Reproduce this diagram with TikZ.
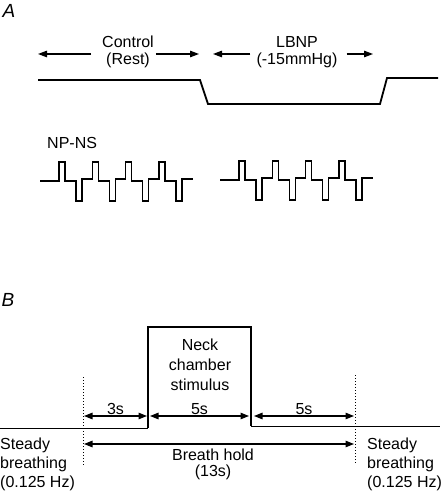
\documentclass[tikz,border=0pt]{standalone}
\usepackage{fontspec}
\setmainfont{Liberation Sans}
\usetikzlibrary{arrows.meta,positioning}

\begin{document}
\begin{tikzpicture}[x=1pt,y=-1pt,
  txt/.style={align=center,inner sep=1pt,font=\fontsize{16}{17}\selectfont},
  panel/.style={inner sep=0pt,font=\fontsize{19}{19}\selectfont\itshape},
  arr/.style={-{Triangle[length=9pt,width=6.5pt]},line width=1.2pt},
  dim/.style={{Triangle[length=8.5pt,width=6.5pt]}-{Triangle[length=8.5pt,width=6.5pt]},line width=1.2pt},
  trace/.style={line width=1.8pt},
  pulse/.style={line width=1.4pt}]
\useasboundingbox (0,0) rectangle (443,494);
\node[panel] (labA) at (9,11) {A};
\node[txt] (ctrl) at (128,52) {Control\\(Rest)};
\node[txt] (lbnp) at (297,52) {LBNP\\(-15mmHg)};
\coordinate (c1) at (38,54);
\coordinate (c2) at (199,54);
\coordinate (l1) at (213,54);
\coordinate (l2) at (373,54);
\draw[arr,shorten <=10pt] (ctrl.west |- c1) -- (c1);
\draw[arr,shorten <=1pt] (ctrl.east |- c2) -- (c2);
\draw[arr,shorten <=5pt] (lbnp.west |- l1) -- (l1);
\draw[arr,shorten <=8pt] (lbnp.east |- l2) -- (l2);
\draw[trace] (38,80) -- (200,80) -- (208,104) -- (380,104) -- (387,78) -- (438,78);
\node[txt,anchor=west,inner sep=0pt] (npns) at (47,143) {NP-NS};
\foreach \s/\b/\e in {40/181/193, 220/180/373} {
  \draw[pulse] (\s,\b)
    \foreach \k [evaluate=\k as \p using \s+19+33.3*\k] in {0,...,3} {
      -| (\p,\b-19) -| (\p+6,\b) -| (\p+17,\b+20) -| (\p+23,\b-2)
    } -- (\e,\b-2);
}
\node[panel] (labB) at (8,300) {B};
\draw[line width=0.8pt] (0,428) -- (148,428);
\draw[line width=0.8pt] (251,426) -- (440,426);
\draw[line width=1.8pt] (148,428) -- (148,327) -- (251,327) -- (251,426);
\node[txt,font=\fontsize{16}{20}\selectfont] (neck) at (200,365) {Neck\\chamber\\stimulus};
\draw[dotted,line width=1pt] (83,377) -- (83,465);
\draw[dotted,line width=1pt] (355,375) -- (355,463);
\coordinate (h1) at (84,416);
\coordinate (h2) at (147,416);
\coordinate (h3) at (150,416);
\coordinate (h4) at (249,416);
\coordinate (h5) at (254,416);
\coordinate (h6) at (354,416);
\draw[dim] (h1) -- node[txt,above] (t3) {3s} (h2);
\draw[dim] (h3) -- node[txt,above] (t5a) {5s} (h4);
\draw[dim] (h5) -- node[txt,above] (t5b) {5s} (h6);
\coordinate (b1) at (84,444);
\coordinate (b2) at (354,444);
\draw[dim] (b1) -- (b2);
\node[txt,font=\fontsize{16}{16}\selectfont] (hold) at (213,464) {Breath hold\\(13s)};
\node[txt,align=left,anchor=west,inner sep=0pt,font=\fontsize{16}{19}\selectfont] (sb1) at (0,464) {Steady\\breathing\\(0.125 Hz)};
\node[txt,align=left,anchor=west,inner sep=0pt,font=\fontsize{16}{19}\selectfont] (sb2) at (367,464) {Steady\\breathing\\(0.125 Hz)};
\end{tikzpicture}
\end{document}
